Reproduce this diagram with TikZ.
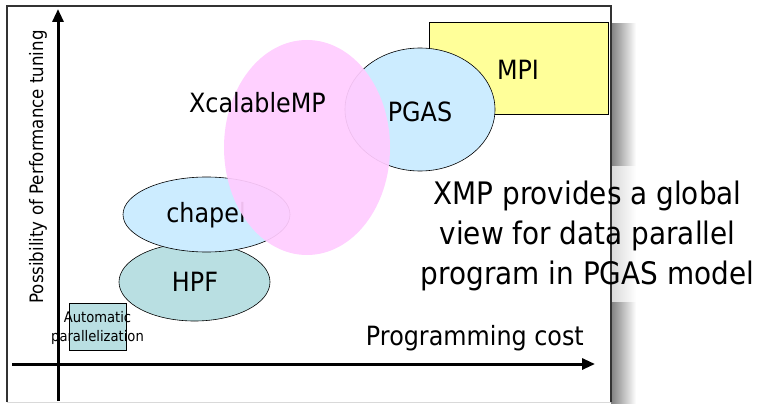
\documentclass[tikz,border=0pt]{standalone}
\usepackage{fontspec}
\setmainfont{DejaVu Sans}[FakeStretch=0.9]
\usetikzlibrary{shapes.geometric,arrows.meta}
\definecolor{pinkfill}{HTML}{FFCCFF}
\definecolor{bluefill}{HTML}{CCECFF}
\definecolor{tealfill}{HTML}{B9DFE2}
\definecolor{yellowfill}{HTML}{FFFF99}
\tikzset{
  blob/.style={ellipse, draw=black, line width=0.6pt, inner sep=0pt},
  lbl/.style={font=\fontsize{26.5}{30}\selectfont, inner sep=0pt},
  axis/.style={line width=3pt, -{Triangle[length=13pt,width=11pt]}},
}
\begin{document}
\begin{tikzpicture}[x=1pt,y=-1pt]
\useasboundingbox (0,0) rectangle (760,404);
% shadow
\shade[left color=black!50, right color=white] (611,24) rectangle (636,404);
% translucent white panel behind the note
\fill[white, opacity=0.7] (390,166) rectangle (760,302);
% frame
\draw[line width=1.4pt, black!80] (7,402) -- (7,6) -- (611,6) -- (611,402);
\draw[line width=1pt, black!15] (7,402) -- (611,402);
% MPI
\node[draw=black, line width=0.6pt, fill=yellowfill, minimum width=179pt, minimum height=92pt, inner sep=0pt] (mpi) at (518.5,68) {};
\node[lbl] (mpil) at (518,70) {MPI};
% PGAS
\node[blob, fill=bluefill, minimum width=150pt, minimum height=123pt] (pgas) at (420,109.5) {};
\node[lbl] (pgasl) at (420,112) {PGAS};
% HPF
\node[blob, fill=tealfill, minimum width=151pt, minimum height=78pt] (hpf) at (194.5,282) {};
\node[lbl] (hpfl) at (195,282) {HPF};
% chapel
\node[blob, fill=bluefill, minimum width=167pt, minimum height=75pt] (chapel) at (206.5,214.5) {};
\node[lbl] (chapell) at (206,215) {chapel};
% axes
\coordinate (yb) at (58,401);
\coordinate (yt) at (58,9);
\coordinate (xl) at (12,364);
\coordinate (xr) at (595,364);
\draw[axis] (yb) -- (yt);
\draw[axis] (xl) -- (xr);
% automatic parallelization
\node[draw=black, line width=0.6pt, fill=tealfill, minimum width=57pt, minimum height=47pt, inner sep=0pt] (autob) at (97.5,326.5) {};
\node[font=\fontsize{14.6}{19}\selectfont, align=center, inner sep=0pt] (autol) at (97.5,328) {Automatic\\parallelization};
% XcalableMP
\node[ellipse, fill=pinkfill, fill opacity=0.93, minimum width=166pt, minimum height=215pt, inner sep=0pt] (xmp) at (307,147.5) {};
\node[lbl] (xmpl) at (257.5,103) {XcalableMP};
% axis labels
\node[font=\fontsize{26.5}{30}\selectfont, inner sep=0pt, anchor=east] (xlab) at (584,338) {Programming cost};
\node[font=\fontsize{18.5}{22}\selectfont, inner sep=0pt, rotate=90] (ylab) at (38,167) {Possibility of Performance tuning};
% note
\node[font=\fontsize{31}{40}\selectfont, align=center, inner sep=0pt] (note) at (587.5,236) {XMP provides a global\\view for data parallel\\program in PGAS model};
\end{tikzpicture}
\end{document}
